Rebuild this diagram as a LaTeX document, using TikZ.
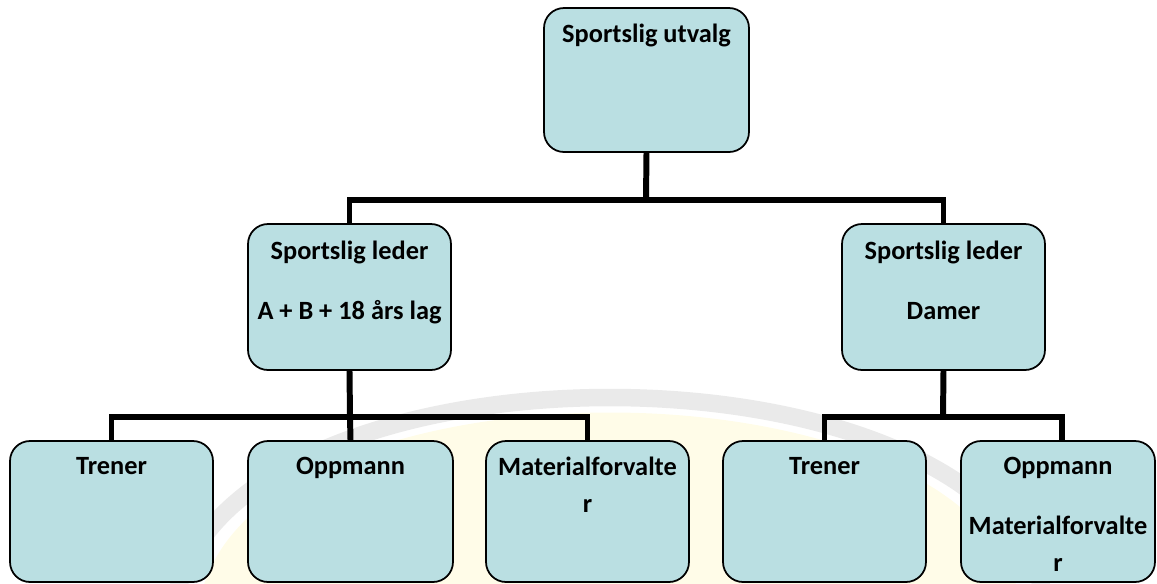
\documentclass[tikz,border=0pt]{standalone}
\usepackage{fontspec}
\setmainfont{Carlito}
\usetikzlibrary{positioning,calc}
\definecolor{boxblue}{RGB}{186,223,226}
\definecolor{markyellow}{RGB}{255,252,232}
\definecolor{markgray}{RGB}{234,234,234}
\newcommand{\orgfont}{\fontsize{15}{21}\selectfont\bfseries}
\tikzstyle{orgbox}=[draw, line width=1pt, rounded corners=0.4cm, fill=boxblue, inner sep=0pt, minimum width=4.06cm, minimum height=2.82cm]
\tikzstyle{boxtext}=[font=\orgfont, align=center, anchor=north, inner sep=0pt]
\tikzstyle{link}=[draw, line width=3.4pt]

\begin{document}
\begin{tikzpicture}[x=0.02cm, y=-0.02cm]
    \useasboundingbox (0,0) rectangle (1157,583);
    % faint logo behind the chart
    \fill[markyellow] (200,600) .. controls (250,350) and (970,350) .. (1020,600) -- cycle;
    \draw[markgray, line width=0.35cm] (175,600) .. controls (230,330) and (990,330) .. (1045,600);

    % First the boxes
    \node[orgbox, minimum width=4.1cm, minimum height=2.88cm] (utvalg) at (646.5,80) {};
    \foreach \pos/\name in {349.5/lederA, 943.5/lederD}
        \node[orgbox, minimum height=2.92cm] (\name) at (\pos,297) {};
    \foreach \pos/\bw/\name in {111.5/4.06/tren1, 350.5/4.1/opp1, 587.5/4.06/mat1, 824.5/4.06/tren2, 1058/3.88/opp2}
        \node[orgbox, minimum width=\bw cm] (\name) at (\pos,511.5) {};

    % Texts at the top of each box
    \node[boxtext] (utvalgtxt) at ([yshift=-0.34cm]utvalg.north) {Sportslig utvalg};
    \node[boxtext] (lederAtxt) at ([yshift=-0.36cm]lederA.north) {Sportslig leder\\[13pt]A + B + 18 års lag};
    \node[boxtext] (lederDtxt) at ([yshift=-0.36cm]lederD.north) {Sportslig leder\\[13pt]Damer};
    \foreach \name/\txt in {tren1/Trener, opp1/Oppmann, mat1/{Materialforvalte\\r}, tren2/Trener, opp2/{Oppmann\\[13pt]Materialforvalte\\r}}
        \node[boxtext] (\name txt) at ([yshift=-0.34cm]\name.north) {\txt};

    % Connect the boxes
    \coordinate (hub) at (646,200);
    \coordinate (hubA) at (350,417);
    \coordinate (hubD) at (943,417);
    \path[link] (utvalg.south) -- (hub);
    \path[link] (lederA.north) |- (hub) -| (lederD.north);
    \path[link] (lederA.south) -- (hubA);
    \path[link] (tren1.north) |- (hubA) -| (mat1.north);
    \path[link] (opp1.north) -- (hubA);
    \path[link] (lederD.south) -- (hubD);
    \path[link] (tren2.north) |- (hubD) -| ([xshift=0.08cm]opp2.north);
\end{tikzpicture}
\end{document}
